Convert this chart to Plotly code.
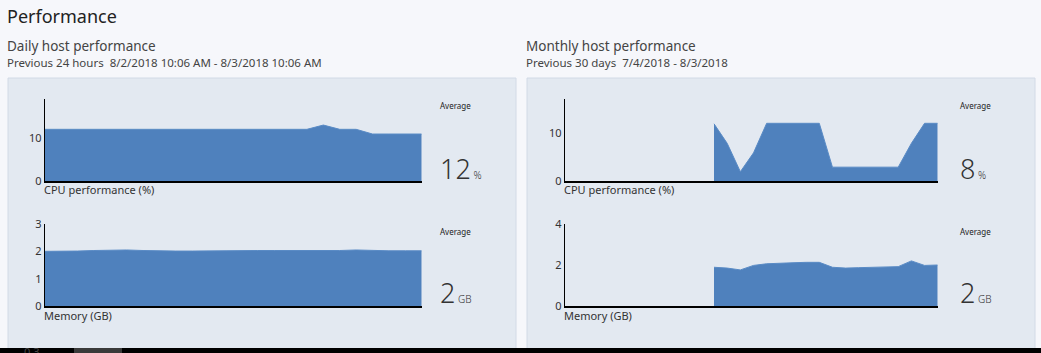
import plotly.graph_objects as go
import pandas as pd

W, H = 1041, 353

# ---------------- data ----------------
daily_times = pd.date_range("2018-08-02 11:00", periods=24, freq="h")
daily_cpu = [12.1] * 17 + [13.1, 12.1, 12.1, 11.0, 11.0, 11.0, 11.0]
daily_mem = [2.00, 2.00, 2.01, 2.03, 2.04, 2.05, 2.03, 2.01, 2.01, 2.01, 2.02, 2.03,
             2.03, 2.03, 2.03, 2.03, 2.03, 2.02, 2.03, 2.05, 2.03, 2.02, 2.02, 2.02]

monthly_days = pd.date_range("2018-07-17", periods=18, freq="D")
monthly_cpu = [12.0, 7.9, 1.95, 5.9, 12.1, 12.1, 12.1, 12.1, 12.1,
               2.9, 2.9, 2.9, 2.9, 2.9, 2.9, 7.9, 12.1, 12.1]
monthly_mem = [1.89, 1.85, 1.76, 1.98, 2.06, 2.10, 2.11, 2.13, 2.13,
               1.89, 1.85, 1.87, 1.89, 1.90, 1.92, 2.20, 1.98, 2.00]

daily_range = [daily_times[0], daily_times[-1]]
monthly_range = ["2018-07-05 15:36", "2018-08-03 00:00"]

cpu_ticks = [0, 10]
daily_mem_ticks = [0, 1, 2, 3]
monthly_mem_ticks = [0, 2, 4]

avg_daily_cpu, avg_daily_mem = "12", "2"
avg_monthly_cpu, avg_monthly_mem = "8", "2"

# ---------------- styles ----------------
FONT = "Noto Sans, Open Sans, sans-serif"
BLUE = "#4f81bd"
PAGE = "#f6f7fb"
PANEL = "#e3e9f1"
PANEL_BORDER = "#d2dae6"
TXT = "#333333"


def px(x):
    return x / W


def py(y):
    return 1 - y / H


fig = go.Figure()

charts = [
    ("x", "y", daily_times, daily_cpu),
    ("x2", "y2", daily_times, daily_mem),
    ("x3", "y3", monthly_days, monthly_cpu),
    ("x4", "y4", monthly_days, monthly_mem),
]
for xa, ya, xs, ys in charts:
    fig.add_trace(go.Scatter(
        x=xs, y=ys, xaxis=xa, yaxis=ya, mode="lines", fill="tozeroy",
        line=dict(color="#5a8bc5", width=1), fillcolor=BLUE,
        hoverinfo="skip", showlegend=False))

cpu_dom = [py(181), py(99)]
mem_dom = [py(306), py(224)]
left_dom = [px(44.7), px(421.7)]
right_dom = [px(564.7), px(937.7)]

xcommon = dict(showline=True, linecolor="black", linewidth=1.5, showgrid=False,
               zeroline=False, showticklabels=False, ticks="", fixedrange=True)
ycommon = dict(showline=True, linecolor="black", linewidth=1, showgrid=False,
               zeroline=False, ticks="", tickfont=dict(family=FONT, size=11, color=TXT),
               fixedrange=True)

fig.update_layout(
    width=W, height=H, margin=dict(l=0, r=0, t=0, b=0, pad=0, autoexpand=False),
    paper_bgcolor=PAGE, plot_bgcolor="rgba(0,0,0,0)",
    xaxis=dict(domain=left_dom, anchor="y", range=daily_range, **xcommon),
    yaxis=dict(domain=cpu_dom, anchor="x", range=[0, 19.2], tickvals=cpu_ticks, **ycommon),
    xaxis2=dict(domain=left_dom, anchor="y2", range=daily_range, **xcommon),
    yaxis2=dict(domain=mem_dom, anchor="x2", range=[0, 3], tickvals=daily_mem_ticks, **ycommon),
    xaxis3=dict(domain=right_dom, anchor="y3", range=monthly_range, **xcommon),
    yaxis3=dict(domain=cpu_dom, anchor="x3", range=[0, 17.2], tickvals=cpu_ticks, **ycommon),
    xaxis4=dict(domain=right_dom, anchor="y4", range=monthly_range, **xcommon),
    yaxis4=dict(domain=mem_dom, anchor="x4", range=[0, 4], tickvals=monthly_mem_ticks, **ycommon),
)

shapes = []
for x0, x1 in [(8, 516), (527, 1035)]:
    shapes.append(dict(type="rect", xref="paper", yref="paper", layer="below",
                       x0=px(x0), x1=px(x1), y0=py(360), y1=py(78),
                       fillcolor=PANEL, line=dict(color=PANEL_BORDER, width=1)))
shapes.append(dict(type="rect", xref="paper", yref="paper", layer="above",
                   x0=0, x1=1, y0=0, y1=py(348), fillcolor="black", line=dict(width=0)))
shapes.append(dict(type="rect", xref="paper", yref="paper", layer="above",
                   x0=px(74), x1=px(122), y0=0, y1=py(348), fillcolor="#3a3a3a",
                   line=dict(width=0)))
fig.update_layout(shapes=shapes)


def text(x, y, s, size, color=TXT, weight=None):
    f = dict(family=FONT, size=size, color=color)
    if weight:
        f["weight"] = weight
    fig.add_annotation(x=px(x), y=py(y), xref="paper", yref="paper", text=s,
                       showarrow=False, xanchor="left", yanchor="middle", font=f,
                       borderpad=0)


text(6, 16.5, "Performance", 18, "#222222")
for x0, head, sub in [(6, "Daily host performance",
                       "Previous 24 hours  8/2/2018 10:06 AM - 8/3/2018 10:06 AM"),
                      (525, "Monthly host performance",
                       "Previous 30 days  7/4/2018 - 8/3/2018")]:
    text(x0, 46, head, 13.5, "#444444")
    text(x0, 63, sub, 11.5, "#444444")

for x0 in [43, 563]:
    text(x0, 189.5, "CPU performance (%)", 11)
    text(x0, 315.5, "Memory (GB)", 11)

for x0, cpu_avg, mem_avg in [(438.5, avg_daily_cpu, avg_daily_mem),
                             (958.5, avg_monthly_cpu, avg_monthly_mem)]:
    text(x0, 106, "Average", 8, "#222222")
    text(x0, 231, "Average", 8, "#222222")
    text(x0, 168,
         cpu_avg + "<span style='font-size:10px'> %</span>", 27, "#333333", 300)
    text(x0, 292,
         mem_avg + "<span style='font-size:10px'> GB</span>", 27, "#333333", 300)

# partially visible tick label of the next chart, cut by the bottom edge
text(23, 351, "0.3", 11, "#444444")

fig.write_html("out.html")
